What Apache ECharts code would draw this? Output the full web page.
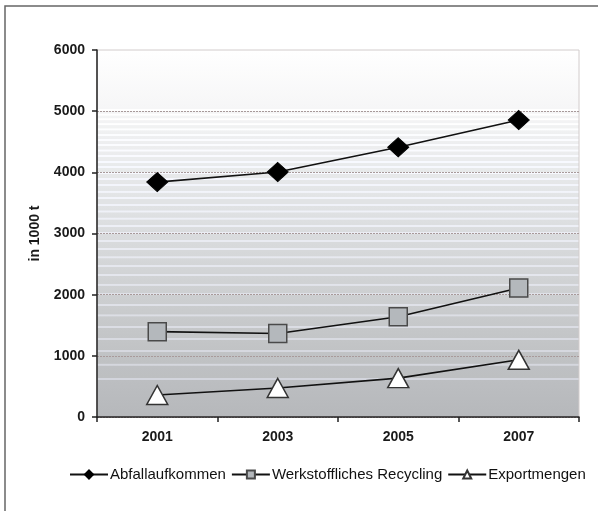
<!DOCTYPE html>
<html>
<head>
<meta charset="utf-8">
<script src="https://cdn.jsdelivr.net/npm/echarts@6/dist/echarts.min.js"></script>
<style>
  html, body { margin: 0; padding: 0; background: #ffffff; }
  #chart { width: 598px; height: 511px; }
</style>
</head>
<body>
<div id="chart"></div>
<script>
// Jahre und Mengen (in 1000 t)
const years = ['2001', '2003', '2005', '2007'];
const abfallaufkommen = [3840, 4005, 4410, 4855];
const recycling = [1395, 1365, 1640, 2110];
const exportmengen = [360, 475, 635, 935];
const yTicks = { min: 0, max: 6000, step: 1000 };

const FONT = '"Liberation Sans", Arial, sans-serif';

// Plot background: grey gradient with lighter horizontal bands
const baseStops = [
  [0.00, [255, 255, 255]],
  [0.12, [250, 250, 250]],
  [0.22, [240, 241, 242]],
  [0.40, [226, 228, 230]],
  [0.60, [210, 212, 214]],
  [0.80, [194, 196, 198]],
  [1.00, [182, 184, 187]]
];
function baseAt(t) {
  for (let i = 1; i < baseStops.length; i++) {
    const [t1, c1] = baseStops[i];
    const [t0, c0] = baseStops[i - 1];
    if (t <= t1) {
      const k = (t - t0) / (t1 - t0);
      return c0.map((v, j) => Math.round(v + (c1[j] - v) * k));
    }
  }
  return baseStops[baseStops.length - 1][1];
}
function rgb(c) { return 'rgb(' + c.join(',') + ')'; }
function buildBackground(plotHeight) {
  const stops = [];
  const bands = [];
  let y = 60;
  while (y < plotHeight - 28) {
    bands.push(y);
    const r = y / plotHeight;
    y += 4.5 + r * r * 13;
  }
  stops.push({ offset: 0, color: rgb(baseAt(0)) });
  const h = 0.9 / plotHeight;
  bands.forEach(py => {
    const p = py / plotHeight;
    const b = baseAt(p);
    const boost = 10 + 14 * p;
    const light = b.map((v, j) => Math.min(255, Math.round(v + boost + (j === 2 ? 5 : 0))));
    stops.push({ offset: p - h - 0.0005, color: rgb(baseAt(p - h - 0.0005)) });
    stops.push({ offset: p - h, color: rgb(light) });
    stops.push({ offset: p + h, color: rgb(light) });
    stops.push({ offset: p + h + 0.0005, color: rgb(baseAt(p + h + 0.0005)) });
  });
  stops.push({ offset: 1, color: rgb(baseAt(1)) });
  return new echarts.graphic.LinearGradient(0, 0, 0, 1, stops);
}

const chart = echarts.init(document.getElementById('chart'), null, { renderer: 'canvas' });

const grid = { left: 97, right: 19, top: 50, bottom: 94 };
const plotHeight = 511 - grid.top - grid.bottom;

const option = {
  animation: false,
  backgroundColor: '#ffffff',
  textStyle: { fontFamily: FONT },
  graphic: [{
    type: 'rect',
    shape: { x: 5, y: 6, width: 700, height: 700 },
    style: { fill: 'none', stroke: '#666666', lineWidth: 1.5 },
    silent: true,
    z: 100
  }],
  grid: {
    left: grid.left, right: grid.right, top: grid.top, bottom: grid.bottom,
    show: true,
    backgroundColor: buildBackground(plotHeight),
    borderColor: '#d2cccc',
    borderWidth: 1
  },
  legend: {
    left: 64,
    top: 462,
    itemWidth: 38,
    itemHeight: 10,
    itemGap: 5,
    textStyle: { fontFamily: FONT, fontSize: 15, color: '#111111', padding: [0, 0, 0, -3] },
    data: ['Abfallaufkommen', 'Werkstoffliches Recycling', 'Exportmengen']
  },
  xAxis: {
    type: 'category',
    data: years,
    boundaryGap: true,
    axisLine: { lineStyle: { color: '#222222', width: 1.5 } },
    axisTick: { show: true, alignWithLabel: false, length: 5, lineStyle: { color: '#222222', width: 1.5 } },
    axisLabel: { margin: 13, fontFamily: FONT, fontSize: 14, fontWeight: 'bold', color: '#1a1a1a' },
    splitLine: { show: false }
  },
  yAxis: {
    type: 'value',
    min: yTicks.min,
    max: yTicks.max,
    interval: yTicks.step,
    name: 'in 1000 t',
    nameLocation: 'middle',
    nameRotate: 90,
    nameGap: 55,
    nameTextStyle: { fontFamily: FONT, fontSize: 14, fontWeight: 'bold', color: '#1a1a1a' },
    axisLine: { show: true, lineStyle: { color: '#222222', width: 1.5 } },
    axisTick: { show: true, length: 5, lineStyle: { color: '#222222', width: 1.5 } },
    axisLabel: {
      margin: 12, fontFamily: FONT, fontSize: 14, fontWeight: 'bold', color: '#1a1a1a',
      formatter: v => String(v)
    },
    splitLine: { show: true, showMaxLine: false, lineStyle: { color: '#a89a9a', type: [2, 1], width: 1 } }
  },
  series: [
    {
      name: 'Abfallaufkommen',
      type: 'line',
      data: abfallaufkommen,
      symbol: 'diamond',
      symbolSize: [21, 19],
      itemStyle: { color: '#000000', borderColor: '#000000', borderWidth: 1 },
      lineStyle: { color: '#111111', width: 1.6 },
      z: 3
    },
    {
      name: 'Werkstoffliches Recycling',
      type: 'line',
      data: recycling,
      symbol: 'rect',
      symbolSize: 18,
      itemStyle: { color: '#b4b8bc', borderColor: '#4a4a4a', borderWidth: 1.5 },
      lineStyle: { color: '#111111', width: 1.6 },
      z: 3
    },
    {
      name: 'Exportmengen',
      type: 'line',
      data: exportmengen,
      symbol: 'triangle',
      symbolSize: [21, 19],
      itemStyle: { color: '#ffffff', borderColor: '#333333', borderWidth: 1.5 },
      lineStyle: { color: '#111111', width: 1.6 },
      z: 3
    }
  ]
};

chart.setOption(option);
</script>
</body>
</html>
